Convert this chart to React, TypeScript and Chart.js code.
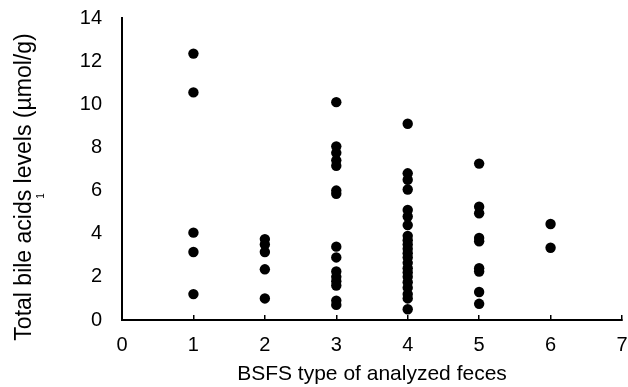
import React, { useEffect, useRef } from "react";
import { Chart, registerables } from "chart.js";

Chart.register(...registerables);

const bsfsTypes = [1, 2, 3, 4, 5, 6];
const type1Values = [12.35, 10.55, 4.05, 3.15, 1.2];
const type2Values = [3.75, 3.5, 3.15, 2.35, 1.0];
const type3Values = [10.1, 8.05, 7.75, 7.4, 7.15, 6.0, 5.85, 3.4, 2.9, 2.25, 2.0, 1.8, 1.6, 0.9, 0.7];
const type4Values = [9.1, 6.8, 6.5, 6.05, 5.1, 4.8, 4.4, 3.9, 3.7, 3.5, 3.3, 3.1, 2.9, 2.65, 2.4, 2.2, 2.0, 1.75, 1.5, 1.2, 1.0, 0.5];
const type5Values = [7.25, 5.25, 4.95, 3.8, 3.65, 2.4, 2.25, 1.3, 0.75];
const type6Values = [4.45, 3.35];
const valuesByType = [type1Values, type2Values, type3Values, type4Values, type5Values, type6Values];

const xTitle = "BSFS type of analyzed feces";
const yTitle = "Total bile acids levels (µmol/g)";
const yTitleNote = "1";

const FONT = "'Liberation Sans', Arial, sans-serif";

const yTitlePlugin = {
  id: "yTitlePlugin",
  afterDraw(chart: any) {
    const ctx = chart.ctx;
    ctx.save();
    ctx.fillStyle = "#000";
    ctx.textAlign = "center";
    ctx.textBaseline = "middle";
    ctx.translate(25, 187);
    ctx.rotate(-Math.PI / 2);
    ctx.font = `23px ${FONT}`;
    ctx.fillText(yTitle, 0, 0);
    ctx.restore();
    ctx.save();
    ctx.fillStyle = "#000";
    ctx.textAlign = "center";
    ctx.textBaseline = "middle";
    ctx.translate(41, 196);
    ctx.rotate(-Math.PI / 2);
    ctx.font = `10px ${FONT}`;
    ctx.fillText(yTitleNote, 0, 0);
    ctx.restore();
  },
};

export default function App() {
  const canvasRef = useRef<HTMLCanvasElement | null>(null);

  useEffect(() => {
    if (!canvasRef.current) return;
    const points: { x: number; y: number }[] = [];
    bsfsTypes.forEach((t, i) => {
      valuesByType[i].forEach((v) => points.push({ x: t, y: v }));
    });
    const chart = new Chart(canvasRef.current, {
      type: "scatter",
      data: {
        datasets: [
          {
            data: points,
            backgroundColor: "#000",
            borderWidth: 0,
            pointRadius: 5.2,
            pointHoverRadius: 5.2,
          },
        ],
      },
      plugins: [yTitlePlugin],
      options: {
        animation: false,
        responsive: true,
        maintainAspectRatio: false,
        layout: { padding: { top: 18, left: 0, right: 0, bottom: 0 } },
        plugins: { legend: { display: false }, tooltip: { enabled: false } },
        scales: {
          x: {
            type: "linear",
            min: 0,
            max: 7,
            ticks: { stepSize: 1, color: "#000", font: { family: FONT, size: 20 }, padding: 18 },
            grid: {
              display: true,
              drawOnChartArea: false,
              drawTicks: true,
              tickLength: -5,
              color: "#000",
              lineWidth: 1.5,
            },
            border: { display: true, color: "#000", width: 2 },
            title: {
              display: true,
              text: xTitle,
              color: "#000",
              font: { family: FONT, size: 21 },
              padding: { top: 0, bottom: 0 },
            },
            afterFit: (s: any) => {
              s.height = 67;
              s.paddingLeft = 0;
              s.paddingRight = 6;
            },
          },
          y: {
            type: "linear",
            min: 0,
            max: 14,
            ticks: { stepSize: 2, color: "#000", font: { family: FONT, size: 20 }, padding: 20 },
            grid: { display: false, drawTicks: false },
            border: { display: true, color: "#000", width: 2 },
            afterFit: (s: any) => {
              s.width = 122;
              s.paddingTop = 10;
              s.paddingBottom = 0;
            },
          },
        },
      },
    });
    return () => chart.destroy();
  }, []);

  return (
    <div style={{ position: "fixed", left: 0, top: 0, width: 628, height: 387, background: "#fff" }}>
      <canvas ref={canvasRef} />
    </div>
  );
}
